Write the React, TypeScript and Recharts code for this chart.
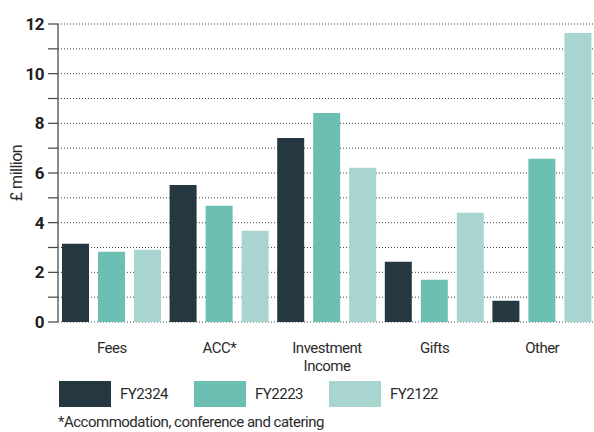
import { BarChart, Bar, XAxis, YAxis, CartesianGrid } from "recharts";

const categories = ["Fees", "ACC*", "Investment Income", "Gifts", "Other"];
const fy2324 = [3.15, 5.52, 7.41, 2.43, 0.86];
const fy2223 = [2.83, 4.68, 8.42, 1.7, 6.57];
const fy2122 = [2.91, 3.67, 6.21, 4.4, 11.64];

const seriesNames = ["FY2324", "FY2223", "FY2122"];
const seriesColors = ["#253841", "#6cc0b3", "#a8d5cf"];

const yTicks = [0, 1, 2, 3, 4, 5, 6, 7, 8, 9, 10, 11, 12];
const yTitle = "£ million";
const footnote = "*Accommodation, conference and catering";

const data = categories.map((name, i) => ({
  name,
  FY2324: fy2324[i],
  FY2223: fy2223[i],
  FY2122: fy2122[i],
}));

// boundary ticks at each category edge, small ticks between bars
const slotTicks = categories
  .flatMap((_, i) => [i, i + 1 / 3, i + 2 / 3])
  .concat(categories.length);

const FONT = "'Roboto', sans-serif";
const TEXT = "#2b2b2b";
const SQUEEZE = -0.5;

function SlotTick({ x, y, payload }: any) {
  const major = Number.isInteger(payload.value);
  return (
    <line
      x1={x}
      x2={x}
      y1={y}
      y2={y + (major ? 12 : 5)}
      stroke={major ? "#666" : "#333"}
      strokeWidth={major ? 1.5 : 1.2}
    />
  );
}

function CategoryTick({ x, y, payload }: any) {
  const words = String(payload.value).split(" ");
  return (
    <text
      x={x}
      y={y}
      textAnchor="middle"
      fill={TEXT}
      fontSize={15}
      fontFamily={FONT}
      letterSpacing={SQUEEZE}
    >
      {words.map((w, i) => (
        <tspan key={i} x={x} dy={i === 0 ? 0 : 18}>
          {w}
        </tspan>
      ))}
    </text>
  );
}

function YTitle({ viewBox }: any) {
  const cx = 22;
  const cy = viewBox.y + viewBox.height / 2;
  return (
    <text
      x={cx}
      y={cy}
      transform={`rotate(-90 ${cx} ${cy})`}
      textAnchor="middle"
      fill={TEXT}
      fontSize={16}
      fontFamily={FONT}
      letterSpacing={SQUEEZE}
    >
      {yTitle}
    </text>
  );
}

export default function App() {
  return (
    <div
      style={{
        position: "absolute",
        left: 0,
        top: 0,
        width: 594,
        height: 432,
        overflow: "hidden",
        background: "#fff",
        fontFamily: FONT,
      }}
    >
      <BarChart
        width={596}
        height={380}
        data={data}
        margin={{ top: 24, right: 0, bottom: 8, left: 0 }}
        barSize={27}
        barGap={9}
      >
        <CartesianGrid
          horizontal
          vertical={false}
          stroke="#444"
          strokeDasharray="1 2"
        />
        <XAxis
          xAxisId="slots"
          type="number"
          domain={[0, categories.length]}
          ticks={slotTicks}
          interval={0}
          height={0}
          tickSize={0}
          tickMargin={0}
          tick={<SlotTick />}
          axisLine={{ stroke: "#777", strokeWidth: 1.5 }}
        />
        <XAxis
          xAxisId="cat"
          dataKey="name"
          height={50}
          axisLine={false}
          tickLine={false}
          interval={0}
          tick={<CategoryTick />}
          tickMargin={0}
          tickSize={31}
        />
        <YAxis
          width={58}
          domain={[0, 12]}
          ticks={yTicks}
          interval={0}
          tickSize={10}
          tickMargin={4}
          tickFormatter={(v: number) => (v % 2 === 0 ? String(v) : "")}
          tick={{
            fill: "#222",
            fontSize: 17,
            fontWeight: 700,
            fontFamily: FONT,
            letterSpacing: SQUEEZE,
          }}
          axisLine={{ stroke: "#666", strokeWidth: 1.5 }}
          tickLine={{ stroke: "#444", strokeWidth: 1.2 }}
          label={<YTitle />}
        />
        {seriesNames.map((s, i) => (
          <Bar
            key={s}
            xAxisId="cat"
            dataKey={s}
            fill={seriesColors[i]}
            isAnimationActive={false}
          />
        ))}
      </BarChart>
      <div style={{ position: "absolute", left: 59, top: 381, display: "flex" }}>
        {seriesNames.map((s, i) => (
          <div key={s} style={{ display: "flex", alignItems: "center", width: 135 }}>
            <div style={{ width: 52, height: 26, background: seriesColors[i] }} />
            <span
              style={{ marginLeft: 9, fontSize: 15, color: TEXT, letterSpacing: SQUEEZE }}
            >
              {s}
            </span>
          </div>
        ))}
      </div>
      <div
        style={{
          position: "absolute",
          left: 58,
          top: 413,
          fontSize: 15,
          color: TEXT,
          whiteSpace: "nowrap",
          letterSpacing: SQUEEZE,
        }}
      >
        {footnote}
      </div>
    </div>
  );
}
